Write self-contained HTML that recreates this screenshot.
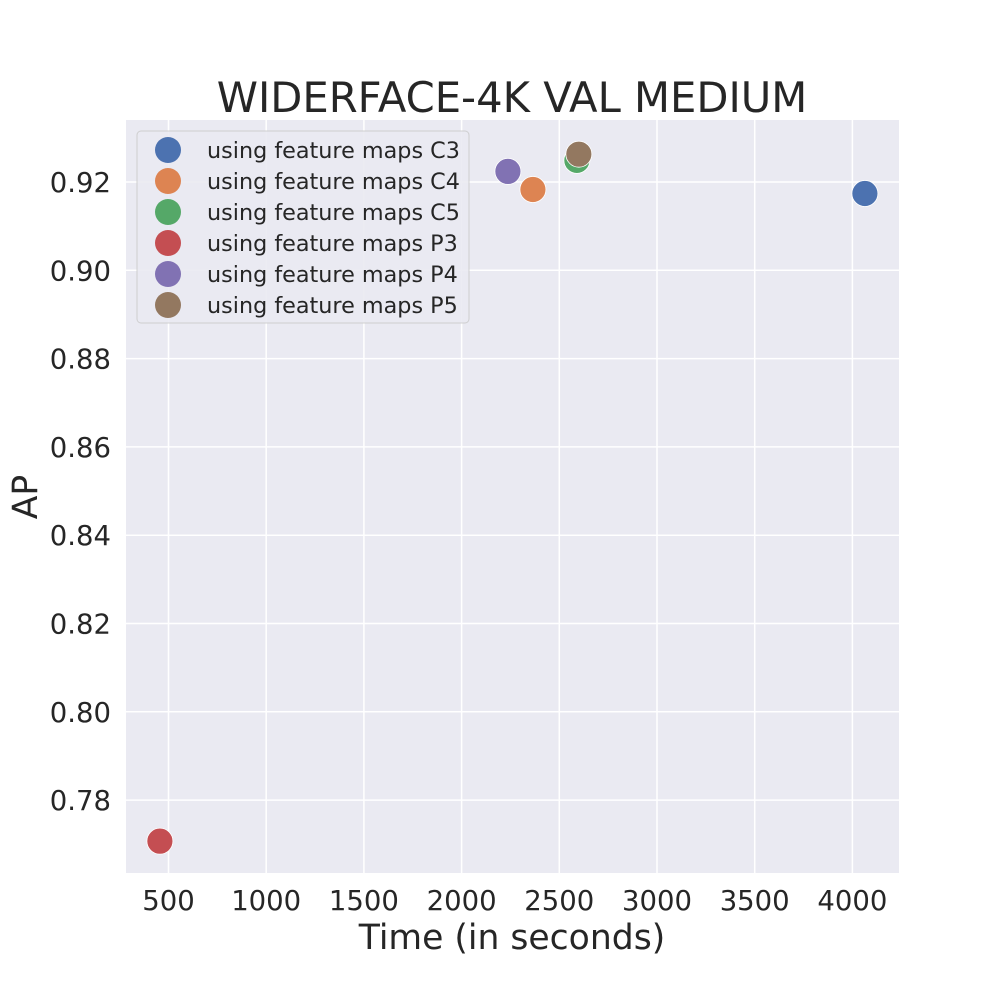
<!DOCTYPE html>
<html><head><meta charset="utf-8"><style>
body{margin:0;background:#fff;}
text{font-family:"DejaVu Sans","Liberation Sans",sans-serif;fill:#262626;}
</style></head><body>
<svg id="chart" width="1000" height="1000" xmlns="http://www.w3.org/2000/svg">
<rect x="0" y="0" width="1000" height="1000" fill="#fff"/>
<rect x="126" y="120" width="773" height="753" fill="#eaeaf2"/>
<g id="grid"></g>
<g id="ticks"></g>
<g id="points"></g>
<text x="512" y="112" font-size="41.7" text-anchor="middle">WIDERFACE-4K VAL MEDIUM</text>
<text x="512" y="949" font-size="34.6" text-anchor="middle">Time (in seconds)</text>
<text x="0" y="0" font-size="34.6" text-anchor="middle" transform="translate(37,497) rotate(-90)">AP</text>
<g id="legend">
<rect x="137" y="131" width="332" height="192" rx="4" fill="#eaeaf2" stroke="#cccccc" stroke-width="1" opacity="0.9"/>
</g>
</svg>
<script>
const labels=["using feature maps C3","using feature maps C4","using feature maps C5","using feature maps P3","using feature maps P4","using feature maps P5"];
const times=[4064,2365,2590,456,2237,2600];
const aps=[0.9174,0.9183,0.9249,0.7707,0.9224,0.9263];
const colors=["#4c72b0","#dd8452","#55a868","#c44e52","#8172b3","#937860"];
const xTicks=[500,1000,1500,2000,2500,3000,3500,4000];
const yTicks=[0.78,0.80,0.82,0.84,0.86,0.88,0.90,0.92];
const NS="http://www.w3.org/2000/svg";
const xs=v=>168.5+(v-500)/500*97.7;
const ys=v=>182+(0.92-v)/0.02*88.3;
function mk(t,a,p){const e=document.createElementNS(NS,t);for(const k in a)e.setAttribute(k,a[k]);p.appendChild(e);return e;}
const grid=document.getElementById('grid'),ticks=document.getElementById('ticks'),pts=document.getElementById('points'),leg=document.getElementById('legend');
xTicks.forEach(v=>{const x=xs(v);
const l=mk('line',{x1:x,x2:x,y1:120,y2:873,stroke:'#fff','stroke-width':1.5},grid);


const t=mk('text',{x:x,y:910,'font-size':27.5,'text-anchor':'middle'},ticks);t.textContent=v;

});
yTicks.forEach(v=>{const y=ys(v);
const l=mk('line',{x1:126,x2:899,y1:y,y2:y,stroke:'#fff','stroke-width':1.5},grid);


const t=mk('text',{x:111,y:y+10,'font-size':27.5,'text-anchor':'end'},ticks);t.textContent=v.toFixed(2);

});
labels.forEach((lab,i)=>{
const c=mk('circle',{cx:xs(times[i]),cy:ys(aps[i]),r:13,fill:colors[i],stroke:'#fff','stroke-width':0.8},pts);


const y=150+i*31;
const m=mk('circle',{cx:168,cy:y,r:13,fill:colors[i]},leg);


const t=mk('text',{x:207,y:y+8,'font-size':22.3},leg);t.textContent=lab;


});
</script>
</body></html>
